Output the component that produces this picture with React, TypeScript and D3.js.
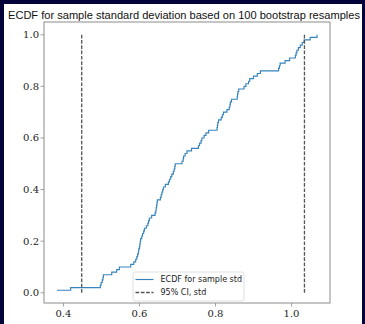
import React from "react";
import * as d3 from "d3";

const bootSamples: number[] = [
  0.383, 0.419, 0.497, 0.499, 0.502, 0.504, 0.505, 0.527, 0.540, 0.547,
  0.577, 0.585, 0.590, 0.593, 0.595, 0.597, 0.598, 0.600, 0.601, 0.602,
  0.603, 0.606, 0.608, 0.611, 0.613, 0.618, 0.622, 0.624, 0.626, 0.632,
  0.641, 0.643, 0.644, 0.645, 0.646, 0.647, 0.655, 0.657, 0.659, 0.661,
  0.663, 0.668, 0.676, 0.679, 0.682, 0.685, 0.689, 0.691, 0.693, 0.694,
  0.712, 0.715, 0.716, 0.720, 0.725, 0.737, 0.755, 0.758, 0.762, 0.764,
  0.770, 0.775, 0.782, 0.804, 0.805, 0.806, 0.808, 0.815, 0.818, 0.821,
  0.830, 0.836, 0.838, 0.839, 0.842, 0.857, 0.858, 0.859, 0.861, 0.875,
  0.880, 0.887, 0.890, 0.900, 0.910, 0.918, 0.966, 0.968, 0.970, 0.983,
  0.995, 1.010, 1.012, 1.014, 1.018, 1.023, 1.028, 1.033, 1.049, 1.067,
];
const ciBounds: number[] = [0.448, 1.034];
const xTicks: number[] = [0.4, 0.6, 0.8, 1.0];
const yTicks: number[] = [0.0, 0.2, 0.4, 0.6, 0.8, 1.0];
const titleText = "ECDF for sample standard deviation based on 100 bootstrap resamples";
const legendLabels: string[] = ["ECDF for sample std", "95% CI, std"];

export default function App() {
  const W = 365, H = 324;
  const L = 44, R = 330, T = 22, B = 303;
  const sorted = [...bootSamples].sort((a, b) => a - b);
  const n = sorted.length;
  const pts: [number, number][] = sorted.map((v, i) => [v, (i + 1) / n]);
  const xe = d3.extent(sorted) as [number, number];
  const xr = xe[1] - xe[0];
  const x = d3.scaleLinear().domain([xe[0] - 0.05 * xr, xe[1] + 0.05 * xr]).range([L, R]);
  const ymin = 1 / n, ymax = 1;
  const yr = ymax - ymin;
  const y = d3.scaleLinear().domain([ymin - 0.05 * yr, ymax + 0.05 * yr]).range([B, T]);

  const stepLine = d3.line<[number, number]>()
    .x((d) => x(d[0]))
    .y((d) => y(d[1]))
    .curve(d3.curveStepAfter);
  const path = stepLine(pts) || "";

  const tickFont = "'DejaVu Serif', 'Liberation Serif', serif";
  const sansFont = "'DejaVu Sans', 'Liberation Sans', sans-serif";
  const titleFont = "'Liberation Sans', Arial, sans-serif";
  const spine = "#8c8c8c";

  const lx = 133, ly = 272, lw = 111, lh = 29;

  return (
    <svg width={W} height={H} style={{ position: "absolute", left: 0, top: 0 }}>
      <rect x={0} y={0} width={W} height={H} fill="#03033a" />
      <rect x={4} y={4} width={358} height={H - 4} fill="#ffffff" />
      <text x={8} y={19} fontFamily={titleFont} fontSize={11} fill="#111" textLength={352} lengthAdjust="spacingAndGlyphs">
        {titleText}
      </text>
      <path d={path} fill="none" stroke="#1f77b4" strokeWidth={1.15} strokeOpacity={0.9} />
      {ciBounds.map((c, i) => (
        <line key={i} x1={x(c)} x2={x(c)} y1={y(0)} y2={y(1)} stroke="#555" strokeWidth={1.3} strokeDasharray="3.7,1.6" />
      ))}
      <rect x={L} y={T} width={R - L} height={B - T} fill="none" stroke={spine} strokeWidth={1} />
      {yTicks.map((t) => (
        <g key={"y" + t}>
          <line x1={L - 3.5} x2={L} y1={y(t)} y2={y(t)} stroke={spine} strokeWidth={0.8} />
          <text x={L - 5} y={y(t)} dy="0.35em" textAnchor="end" fontFamily={tickFont} fontSize={10} fill="#222">
            {t.toFixed(1)}
          </text>
        </g>
      ))}
      {xTicks.map((t) => (
        <g key={"x" + t}>
          <line x1={x(t)} x2={x(t)} y1={B} y2={B + 3.5} stroke={spine} strokeWidth={0.8} />
          <text x={x(t)} y={B + 14} textAnchor="middle" fontFamily={tickFont} fontSize={10} fill="#222">
            {t.toFixed(1)}
          </text>
        </g>
      ))}
      <rect x={lx} y={ly} width={lw} height={lh} rx={2} fill="#fff" fillOpacity={0.8} stroke="#d8d8d8" strokeWidth={0.8} />
      <line x1={lx + 2.5} x2={lx + 20.5} y1={ly + 7.5} y2={ly + 7.5} stroke="#1f77b4" strokeWidth={1.15} strokeOpacity={0.9} />
      <text x={lx + 27.5} y={ly + 7.5} dy="0.35em" fontFamily={sansFont} fontSize={8} fill="#222">{legendLabels[0]}</text>
      <line x1={lx + 2.5} x2={lx + 20.5} y1={ly + 20.5} y2={ly + 20.5} stroke="#555" strokeWidth={1.3} strokeDasharray="3.7,1.6" />
      <text x={lx + 27.5} y={ly + 20.5} dy="0.35em" fontFamily={sansFont} fontSize={8} fill="#222">{legendLabels[1]}</text>
    </svg>
  );
}
